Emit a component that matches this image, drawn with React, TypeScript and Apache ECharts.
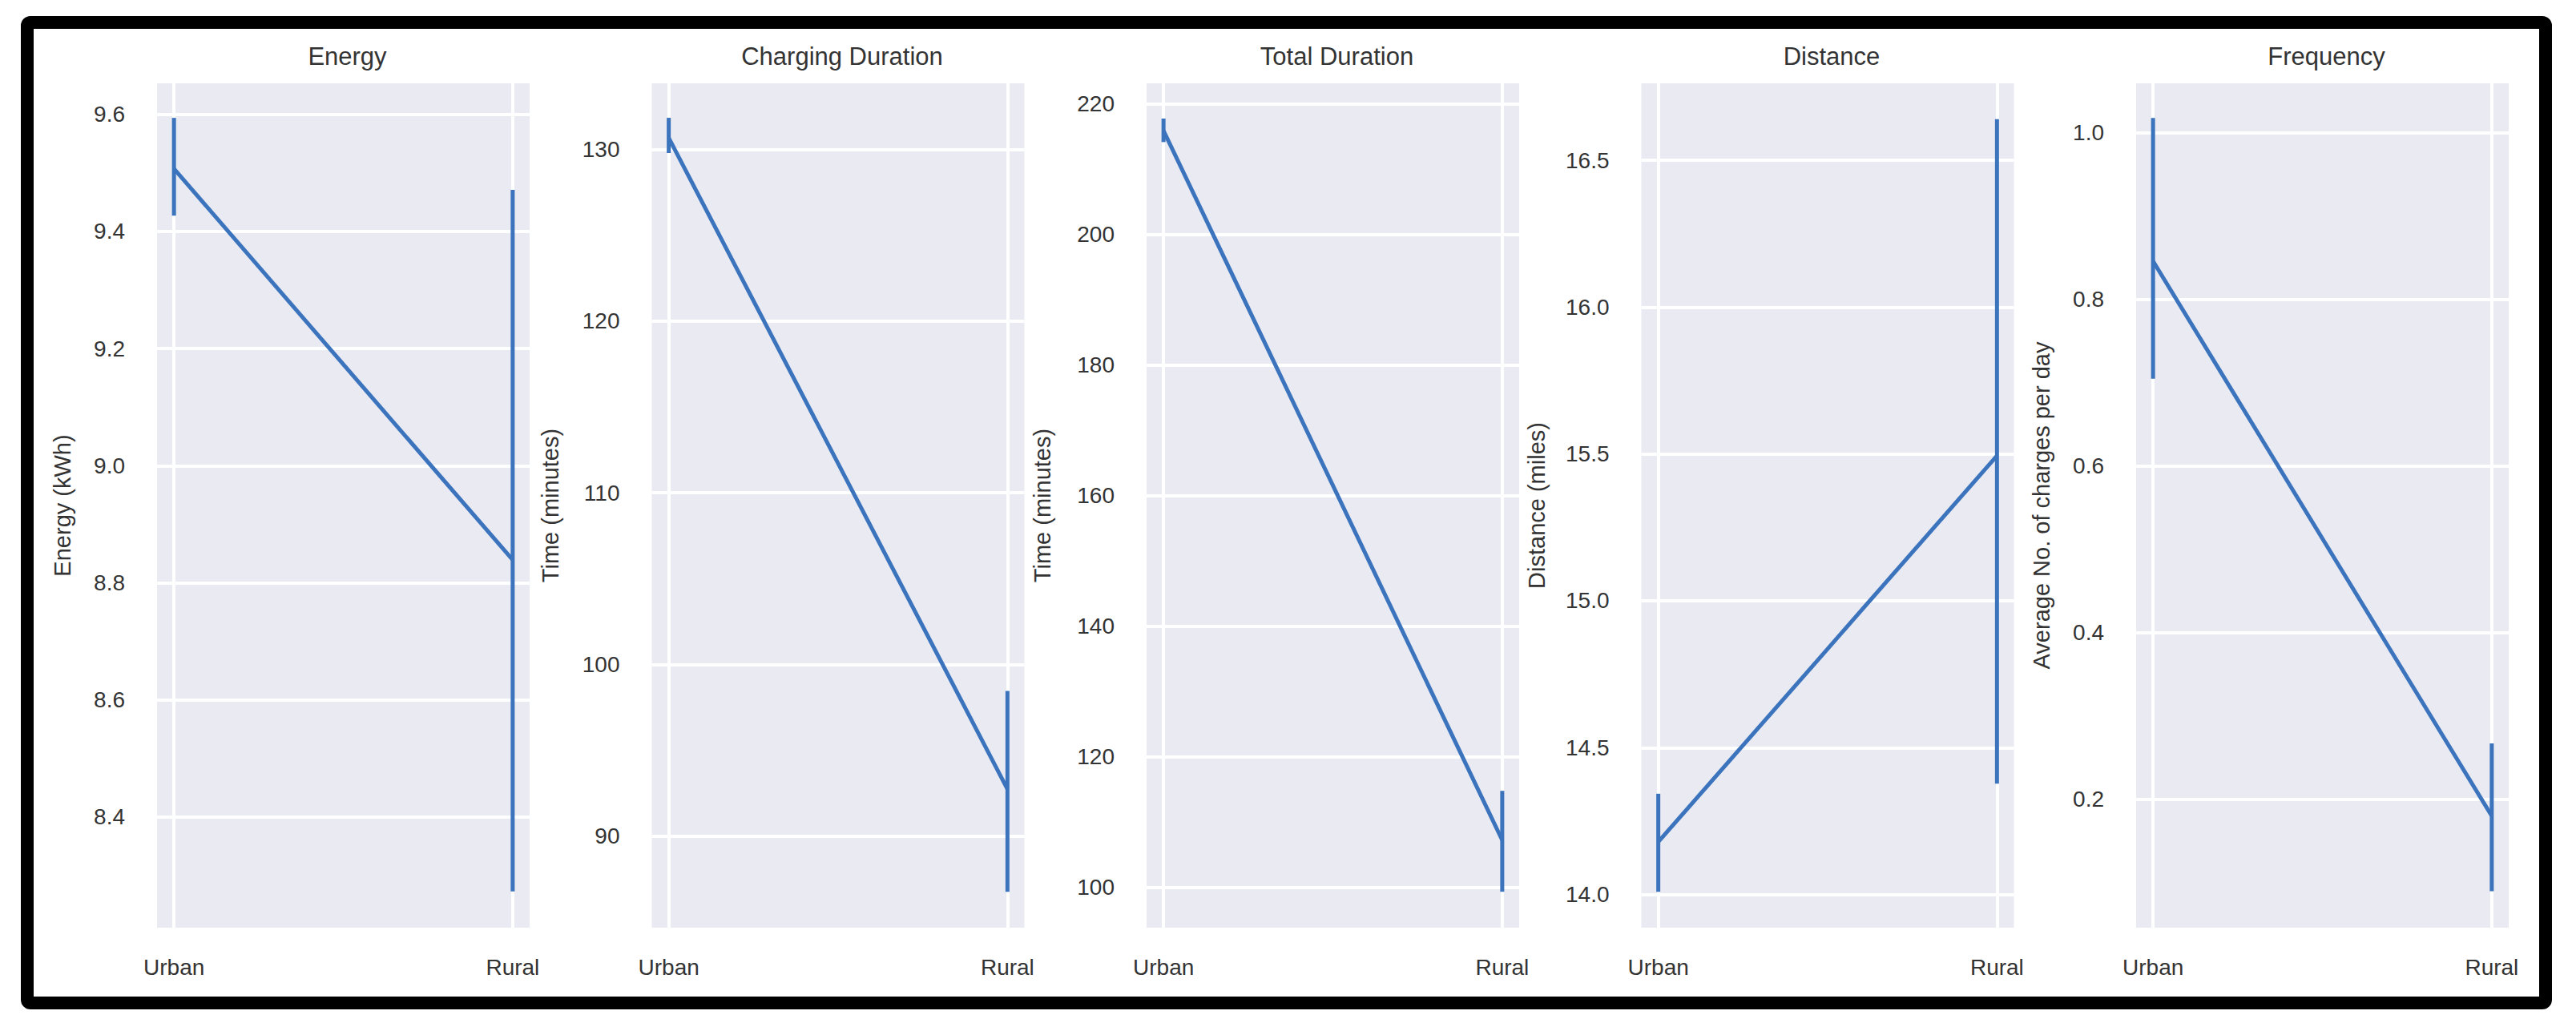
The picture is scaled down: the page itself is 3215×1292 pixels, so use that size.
import React, { useEffect, useRef } from 'react';
import * as echarts from 'echarts';

const categories = ['Urban', 'Rural'];
const panelTitles = ['Energy', 'Charging Duration', 'Total Duration', 'Distance', 'Frequency'];
const yAxisNames = ['Energy (kWh)', 'Time (minutes)', 'Time (minutes)', 'Distance (miles)', 'Average No. of charges per day'];

const energyMean = [9.507, 8.839];
const energyLow = [9.427, 8.273];
const energyHigh = [9.594, 9.471];

const chargingMean = [130.68, 92.73];
const chargingLow = [129.8, 86.75];
const chargingHigh = [131.85, 98.45];

const totalMean = [215.85, 107.2];
const totalLow = [214.1, 99.3];
const totalHigh = [217.7, 114.75];

const distanceMean = [14.179, 15.494];
const distanceLow = [14.009, 14.377];
const distanceHigh = [14.343, 16.64];

const freqMean = [0.846, 0.18];
const freqLow = [0.705, 0.0896];
const freqHigh = [1.018, 0.267];

const yMin = [8.211, 84.66, 93.8, 13.887, 0.0459];
const yMax = [9.653, 133.86, 223.1, 16.762, 1.0595];
const yDecimals = [1, 0, 0, 1, 1];
const yNameGap = [104, 112, 116, 116, 104];

const means = [energyMean, chargingMean, totalMean, distanceMean, freqMean];
const lows = [energyLow, chargingLow, totalLow, distanceLow, freqLow];
const highs = [energyHigh, chargingHigh, totalHigh, distanceHigh, freqHigh];

const LINE_COLOR = '#3b74bd';
const TEXT_COLOR = '#333333';
const FONT = 'Liberation Sans, Arial, sans-serif';

export default function App() {
  const ref = useRef<HTMLDivElement>(null);
  useEffect(() => {
    document.body.style.margin = '0';
    if (!ref.current) return;
    const chart = echarts.init(ref.current, null, { renderer: 'svg' });
    const left0 = 196;
    const step = 617.5;
    const w = 465;
    const top = 104;
    const h = 1054;
    const grids: any[] = [];
    const xAxes: any[] = [];
    const yAxes: any[] = [];
    const series: any[] = [];
    const titles: any[] = [];
    for (let i = 0; i < 5; i++) {
      const left = left0 + i * step;
      grids.push({ left, top, width: w, height: h, show: true, backgroundColor: '#EAEAF2', borderWidth: 0, containLabel: false });
      titles.push({
        text: panelTitles[i],
        left: left + w / 2,
        top: 50,
        textAlign: 'center',
        textStyle: { fontFamily: FONT, fontSize: 31, fontWeight: 'normal', color: TEXT_COLOR },
      });
      xAxes.push({
        type: 'value',
        gridIndex: i,
        min: -0.05,
        max: 1.05,
        axisLine: { show: false },
        axisTick: { show: false, customValues: categories.map((_, k) => k) },
        axisLabel: {
          customValues: categories.map((_, k) => k),
          formatter: (v: number) => categories[Math.round(v)] ?? '',
          fontFamily: FONT,
          fontSize: 28,
          color: TEXT_COLOR,
          margin: 35,
        },
        splitLine: { show: true, lineStyle: { color: '#ffffff', width: 4 } },
      });
      const dec = yDecimals[i];
      yAxes.push({
        type: 'value',
        gridIndex: i,
        min: yMin[i],
        max: yMax[i],
        splitNumber: 6,
        name: yAxisNames[i],
        nameLocation: 'middle',
        nameGap: yNameGap[i],
        nameTextStyle: { fontFamily: FONT, fontSize: 29, color: TEXT_COLOR },
        axisLine: { show: false },
        axisTick: { show: false },
        axisLabel: {
          showMinLabel: false,
          showMaxLabel: false,
          formatter: (v: number) => v.toFixed(dec),
          fontFamily: FONT,
          fontSize: 28,
          color: TEXT_COLOR,
          margin: 40,
        },
        splitLine: { show: true, showMinLine: false, showMaxLine: false, lineStyle: { color: '#ffffff', width: 4 } },
      });
      series.push({
        type: 'line',
        xAxisIndex: i,
        yAxisIndex: i,
        data: categories.map((_, k) => [k, means[i][k]]),
        showSymbol: false,
        symbol: 'none',
        lineStyle: { color: LINE_COLOR, width: 5 },
        itemStyle: { color: LINE_COLOR },
        z: 3,
      });
      series.push({
        type: 'custom',
        xAxisIndex: i,
        yAxisIndex: i,
        data: categories.map((_, k) => [k, lows[i][k], highs[i][k]]),
        encode: { x: 0, y: [1, 2] },
        renderItem: (params: any, api: any) => {
          const x = api.value(0);
          const p1 = api.coord([x, api.value(1)]);
          const p2 = api.coord([x, api.value(2)]);
          return {
            type: 'line',
            shape: { x1: p1[0], y1: p1[1], x2: p2[0], y2: p2[1] },
            style: { stroke: LINE_COLOR, lineWidth: 5 },
          };
        },
        z: 4,
      });
    }
    chart.setOption({
      animation: false,
      backgroundColor: '#ffffff',
      title: titles,
      grid: grids,
      xAxis: xAxes,
      yAxis: yAxes,
      series,
      graphic: [
        {
          type: 'rect',
          silent: true,
          z: 100,
          shape: { x: 34, y: 28, width: 3143, height: 1224, r: 4 },
          style: { fill: 'none', stroke: '#000000', lineWidth: 16 },
        },
      ],
    });
    return () => chart.dispose();
  }, []);
  return <div ref={ref} style={{ width: 3215, height: 1292 }} />;
}
